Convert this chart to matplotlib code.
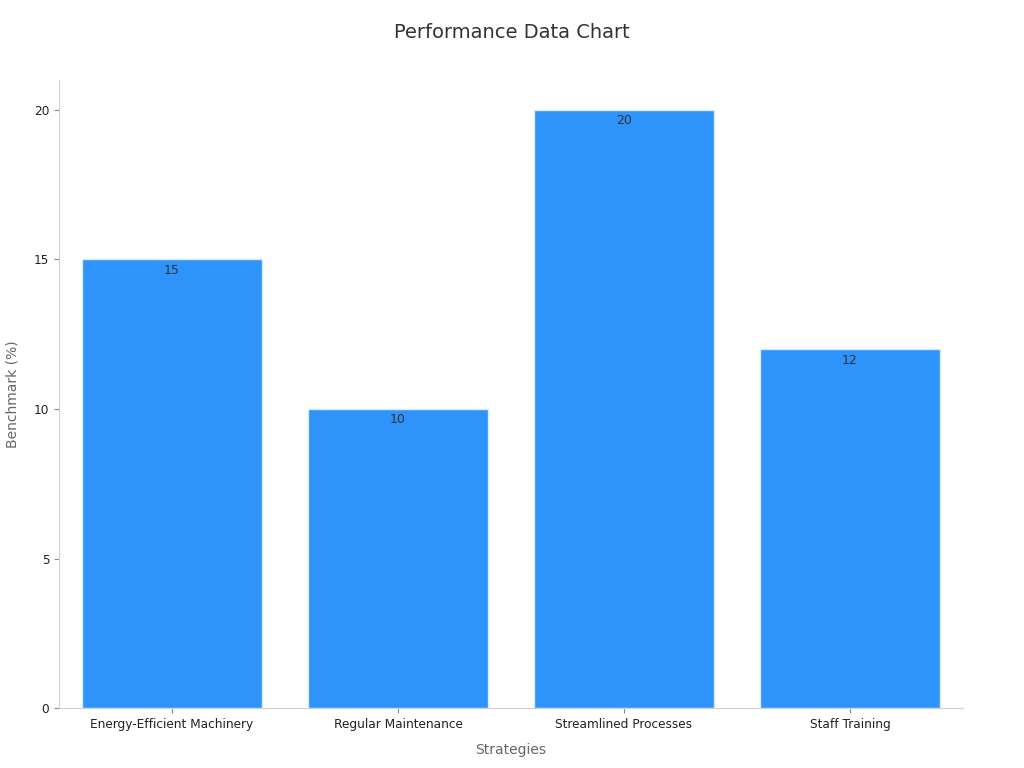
import matplotlib
matplotlib.use("Agg")
import matplotlib.pyplot as plt

strategies = ["Energy-Efficient Machinery", "Regular Maintenance",
              "Streamlined Processes", "Staff Training"]
benchmark = [15, 10, 20, 12]

fig = plt.figure(figsize=(10.24, 7.68), dpi=100)
ax = fig.add_axes([0.0576, 0.078, 0.8828, 0.818])

bars = ax.bar(range(len(strategies)), benchmark, width=0.8,
              color="#2E93FA", edgecolor="#d6ecff", linewidth=1)
for b, v in zip(bars, benchmark):
    ax.text(b.get_x() + b.get_width() / 2, v - 0.15, str(v),
            ha="center", va="top", fontsize=9, color="#333333")

ax.set_xlim(-0.5, 3.5)
ax.set_ylim(0, 21)
ax.set_yticks([0, 5, 10, 15, 20])
ax.set_xticks(range(len(strategies)))
ax.set_xticklabels(strategies)

for s in ["top", "right"]:
    ax.spines[s].set_visible(False)
for s in ["left", "bottom"]:
    ax.spines[s].set_color("#d0d0d0")
ax.tick_params(axis="both", colors="#888888", labelcolor="#222222", labelsize=8.7)

ax.set_xlabel("Strategies", fontsize=10, color="#666666", labelpad=9)
ax.set_ylabel("Benchmark (%)", fontsize=10, color="#666666", labelpad=10)
fig.suptitle("Performance Data Chart", y=0.97, fontsize=14, color="#333333")

fig.savefig("out.png", dpi=100)
